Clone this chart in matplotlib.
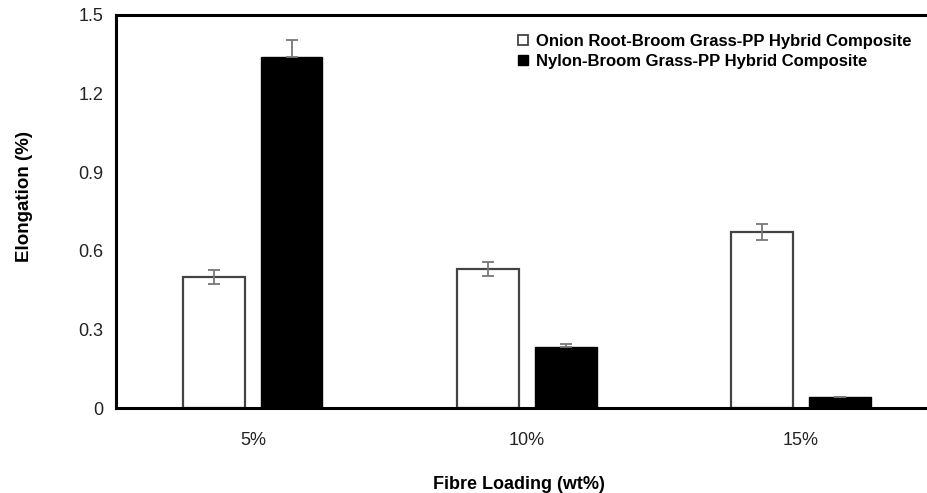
import numpy as np
import matplotlib
matplotlib.use("Agg")
import matplotlib.pyplot as plt
from matplotlib.lines import Line2D

plt.rcParams['font.family'] = ['Liberation Sans', 'DejaVu Sans']

categories = ["5%", "10%", "15%"]
onion_vals = [0.50, 0.53, 0.672]
onion_err = [0.027, 0.027, 0.030]
nylon_vals = [1.34, 0.233, 0.042]
nylon_err = [0.065, 0.010, 0.0]
series_names = ["Onion Root-Broom Grass-PP Hybrid Composite",
                "Nylon-Broom Grass-PP Hybrid Composite"]
yticks = [0, 0.3, 0.6, 0.9, 1.2, 1.5]
ytick_labels = ["0", "0.3", "0.6", "0.9", "1.2", "1.5"]

fig = plt.figure(figsize=(9.27, 4.93), dpi=100)
ax = fig.add_axes([0.125, 0.1724, 0.875, 0.7972])

x = np.arange(len(categories))
w = 0.226
off = 0.141
ekw = dict(ecolor="#777777", elinewidth=1.3, capsize=4, capthick=1.3)
ax.bar(x - off, onion_vals, w, yerr=onion_err, color="white",
       edgecolor="#444444", linewidth=1.6, error_kw=ekw, zorder=2)
ax.bar(x + off, nylon_vals, w, yerr=[[0]*3, nylon_err], color="black",
       edgecolor="black", linewidth=1.0, error_kw=ekw, zorder=2)

ax.set_xlim(-0.5, 2.46)
ax.set_ylim(0, 1.5)
ax.set_xticks(x)
ax.set_xticklabels(categories, fontsize=13, color="#222222")
ax.set_yticks(yticks)
ax.set_yticklabels(ytick_labels, fontsize=13, color="#222222")
ax.tick_params(axis="x", length=0, pad=17)
ax.tick_params(axis="y", length=0, pad=9)

for s in ["left", "bottom", "top"]:
    ax.spines[s].set_linewidth(2.2)
    ax.spines[s].set_color("black")
ax.spines["right"].set_visible(False)

ax.set_xlabel("Fibre Loading (wt%)", fontsize=13, fontweight="bold")
ax.set_ylabel("Elongation (%)", fontsize=13.5, fontweight="bold")
ax.xaxis.set_label_coords(0.497, -0.172)
ax.yaxis.set_label_coords(-0.102, 0.537)

handles = [Line2D([], [], marker="s", ls="none", markersize=7, markerfacecolor="white",
                  markeredgecolor="#444444", markeredgewidth=1.3),
           Line2D([], [], marker="s", ls="none", markersize=7, markerfacecolor="black",
                  markeredgecolor="black")]
leg = ax.legend(handles, series_names, loc="upper right", bbox_to_anchor=(1.0, 0.99),
                frameon=False, handletextpad=0.3, labelspacing=0.3, handlelength=1.0,
                prop=dict(size=12, weight="bold"))

fig.savefig("out.png", dpi=100)
